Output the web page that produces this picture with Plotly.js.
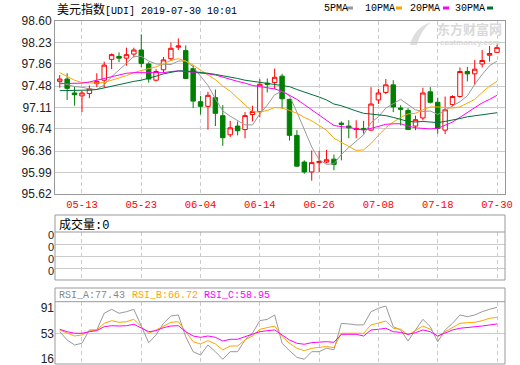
<!DOCTYPE html>
<html><head><meta charset="utf-8">
<script src="https://cdn.plot.ly/plotly-3.0.1.min.js"></script>
<style>html,body{margin:0;padding:0;background:#fff;}#chart{width:520px;height:365px;}</style>
</head><body><div id="chart"></div>
<script>
const dates = ['05-08','05-09','05-10','05-13','05-14','05-15','05-16','05-17','05-20','05-21','05-22','05-23','05-24','05-27','05-28','05-29','05-30','05-31','06-03','06-04','06-05','06-06','06-07','06-10','06-11','06-12','06-13','06-14','06-17','06-18','06-19','06-20','06-21','06-24','06-25','06-26','06-27','06-28','07-01','07-02','07-03','07-04','07-05','07-08','07-09','07-10','07-11','07-12','07-15','07-16','07-17','07-18','07-19','07-22','07-23','07-24','07-25','07-26','07-29','07-30'];
const tickDates = ['05-13','05-23','06-04','06-14','06-26','07-08','07-18','07-30'];
const yTickLabels = ['95.62','95.99','96.36','96.74','97.11','97.48','97.86','98.23','98.60'];
const rsiTickLabels = ['16','53','91'];

const openP  = [97.56,97.60,97.36,97.31,97.35,97.52,97.58,97.94,97.99,97.96,98.03,98.10,97.86,97.58,97.76,97.95,98.15,98.09,97.78,97.21,97.13,97.28,96.97,96.64,96.79,96.73,96.99,97.04,97.53,97.54,97.65,97.25,96.63,96.17,96.00,96.16,96.17,96.22,96.84,96.79,96.73,96.75,96.72,97.24,97.37,97.50,97.10,97.06,96.79,96.93,97.38,97.20,96.72,97.16,97.30,97.73,97.69,97.86,98.01,98.06];
const highP  = [97.67,97.70,97.47,97.40,97.49,97.70,97.90,98.04,98.06,98.14,98.14,98.37,97.89,97.77,97.98,98.23,98.30,98.18,97.84,97.31,97.38,97.42,97.15,96.88,96.87,97.03,97.14,97.60,97.61,97.78,97.69,97.26,96.72,96.20,96.37,96.36,96.38,96.30,96.87,96.89,96.89,96.88,97.46,97.43,97.60,97.58,97.15,97.10,96.97,97.45,97.46,97.28,97.30,97.32,97.80,97.81,97.93,98.10,98.17,98.19];
const lowP   = [97.45,97.24,97.14,97.03,97.27,97.46,97.45,97.77,97.89,97.83,97.97,97.80,97.54,97.56,97.71,97.91,98.10,97.60,97.10,96.99,96.73,96.79,96.45,96.60,96.63,96.58,96.87,96.94,97.37,97.43,97.09,96.54,96.09,95.97,95.85,96.00,96.15,96.03,96.20,96.58,96.58,96.66,96.71,97.17,97.34,97.03,96.80,96.73,96.72,96.89,97.18,96.66,96.65,97.13,97.28,97.56,97.50,97.80,97.90,98.05];
const closeP = [97.60,97.44,97.33,97.36,97.43,97.56,97.84,98.02,97.96,98.02,98.10,97.87,97.60,97.73,97.93,98.13,98.17,97.61,97.22,97.13,97.32,97.01,96.59,96.76,96.71,96.97,97.04,97.51,97.51,97.63,97.26,96.63,96.10,96.00,96.16,96.18,96.21,96.13,96.82,96.76,96.75,96.73,97.17,97.36,97.50,97.12,97.08,96.73,96.90,97.36,97.20,96.75,97.07,97.30,97.73,97.69,97.77,97.92,98.04,98.14];

const ma5  = [97.54,97.50,97.47,97.46,97.43,97.42,97.50,97.64,97.76,97.88,97.99,97.99,97.91,97.86,97.85,97.85,97.91,97.91,97.81,97.65,97.49,97.26,97.05,96.96,96.88,96.81,96.81,97.00,97.15,97.33,97.39,97.31,97.03,96.72,96.43,96.21,96.13,96.14,96.30,96.42,96.53,96.64,96.85,96.95,97.10,97.18,97.25,97.16,97.07,97.04,97.05,96.99,97.06,97.14,97.21,97.31,97.51,97.68,97.83,97.91];
const ma10 = [97.71,97.65,97.58,97.54,97.53,97.53,97.54,97.58,97.61,97.66,97.71,97.75,97.78,97.81,97.86,97.92,97.95,97.91,97.84,97.75,97.67,97.59,97.48,97.39,97.27,97.15,97.04,97.03,97.06,97.11,97.10,97.06,97.01,96.94,96.88,96.80,96.72,96.58,96.51,96.43,96.37,96.38,96.49,96.63,96.76,96.86,96.94,97.00,97.01,97.07,97.12,97.12,97.11,97.10,97.12,97.18,97.25,97.37,97.48,97.56];
const ma20 = [97.52,97.52,97.52,97.53,97.55,97.58,97.62,97.65,97.68,97.70,97.71,97.71,97.70,97.70,97.71,97.73,97.74,97.73,97.72,97.70,97.69,97.67,97.63,97.60,97.56,97.53,97.49,97.47,97.45,97.43,97.39,97.32,97.25,97.16,97.07,96.98,96.88,96.80,96.78,96.77,96.74,96.72,96.75,96.78,96.82,96.83,96.83,96.79,96.76,96.75,96.74,96.75,96.80,96.86,96.94,97.02,97.10,97.19,97.25,97.32];
const ma30 = [97.40,97.40,97.40,97.40,97.41,97.42,97.45,97.48,97.50,97.53,97.56,97.58,97.61,97.65,97.69,97.72,97.74,97.74,97.73,97.72,97.70,97.68,97.66,97.63,97.61,97.58,97.56,97.54,97.52,97.50,97.49,97.47,97.42,97.38,97.34,97.29,97.24,97.17,97.14,97.09,97.05,97.01,97.00,96.98,96.97,96.94,96.90,96.87,96.86,96.87,96.86,96.85,96.87,96.89,96.92,96.95,96.97,96.98,97.00,97.02];

const volume = [0,0,0,0,0,0,0,0,0,0,0,0,0,0,0,0,0,0,0,0,0,0,0,0,0,0,0,0,0,0,0,0,0,0,0,0,0,0,0,0,0,0,0,0,0,0,0,0,0,0,0,0,0,0,0,0,0,0,0,0];

const rsiA = [55.7,43.6,36.3,38.8,58.2,58.2,82.6,88.4,82.6,84.9,88.4,63.0,39.6,50.9,67.9,78.6,80.1,48.4,26.5,21.7,36.3,26.5,15.4,26.5,26.5,43.6,53.4,71.8,73.7,80.1,38.8,28.0,18.3,15.4,26.5,26.5,31.5,29.3,67.9,67.0,65.6,65.6,84.9,89.9,93.2,63.0,58.2,42.1,58.2,73.8,63.0,41.1,58.2,67.9,80.1,77.6,80.1,84.9,88.4,91.3];
const rsiB = [58.2,53.4,49.4,50.9,56.7,58.2,67.9,71.8,69.4,70.3,73.8,63.0,53.4,58.2,64.4,69.4,70.3,55.7,41.1,37.8,42.6,37.8,29.0,34.8,34.8,43.6,49.4,59.2,61.6,64.0,48.4,38.8,31.5,28.0,31.5,32.5,34.0,32.5,53.4,53.4,53.4,53.4,65.5,68.9,71.3,60.7,59.2,50.9,57.2,64.0,59.2,48.4,55.7,61.6,67.9,68.9,69.4,71.8,75.2,76.7];
const rsiC = [59.2,55.7,53.4,53.4,55.7,57.2,63.0,64.4,64.0,64.4,66.5,60.7,55.7,57.2,61.6,64.0,64.4,55.7,49.4,47.5,49.4,47.5,42.1,44.6,44.6,48.4,52.4,55.7,57.2,58.2,50.9,43.6,38.8,37.3,39.7,40.2,41.1,40.2,51.9,51.9,51.9,49.4,58.2,59.2,60.7,55.7,54.7,51.9,54.2,58.2,55.7,49.4,54.2,58.2,60.7,61.6,63.0,64.0,65.5,67.0];

const W = 520, H = 365;
const px = v => v / W;
const py = v => 1 - v / H;
const L = 55, R = 505;
const mainTop = 21, mainBot = 194;
const volTop = 215, volHead = 232, volBot = 280;
const rsiTop = 288, rsiHead = 301.7, rsiBot = 364;

const GRID = '#cccccc', BORDER = '#999999', DASH = '4px,3px';
const C_MA5 = '#999999', C_MA10 = '#ffa500', C_MA20 = '#ff00ff', C_MA30 = '#006f3c';
const MONO = 'Liberation Mono, DejaVu Sans Mono, monospace';
const CJK = 'Noto Sans CJK SC';
const SANS = 'Liberation Sans, Arial, sans-serif';

const traces = [
  {type:'candlestick', x:dates, open:openP, high:highP, low:lowP, close:closeP,
   xaxis:'x', yaxis:'y', whiskerwidth:0, hoverinfo:'skip',
   increasing:{line:{color:'#ff0000', width:1}, fillcolor:'#ffffff'},
   decreasing:{line:{color:'#008000', width:1}, fillcolor:'#008000'}},
  {type:'scatter', mode:'lines', x:dates, y:ma5, line:{color:C_MA5, width:1}, xaxis:'x', yaxis:'y'},
  {type:'scatter', mode:'lines', x:dates, y:ma10, line:{color:C_MA10, width:1}, xaxis:'x', yaxis:'y'},
  {type:'scatter', mode:'lines', x:dates, y:ma20, line:{color:C_MA20, width:1}, xaxis:'x', yaxis:'y'},
  {type:'scatter', mode:'lines', x:dates, y:ma30, line:{color:C_MA30, width:1}, xaxis:'x', yaxis:'y'},
  {type:'bar', x:dates, y:volume, marker:{color:'#ff0000'}, xaxis:'x2', yaxis:'y2'},
  {type:'scatter', mode:'lines', x:dates, y:rsiA, line:{color:'#999999', width:1}, xaxis:'x3', yaxis:'y3'},
  {type:'scatter', mode:'lines', x:dates, y:rsiB, line:{color:'#ffa500', width:1}, xaxis:'x3', yaxis:'y3'},
  {type:'scatter', mode:'lines', x:dates, y:rsiC, line:{color:'#ff00ff', width:1}, xaxis:'x3', yaxis:'y3'}
];

const xCommon = {domain:[px(L), px(R)], type:'category', range:[-0.64, 60.08],
  tickvals:tickDates, ticktext:tickDates, showgrid:true, gridcolor:GRID, griddash:DASH, gridwidth:1,
  ticks:'', zeroline:false, fixedrange:true};

// swoosh logo path of the watermark, in paper units
const P = (x, y) => px(x).toFixed(5) + ',' + py(y).toFixed(5);
const logoPath = 'M' + P(410, 45) + ' Q' + P(414, 28) + ' ' + P(431, 22) + ' Q' + P(420, 31) + ' ' + P(417, 45) + ' Z';

const layout = {
  width:W, height:H, margin:{l:0, r:0, t:0, b:0}, paper_bgcolor:'#ffffff', plot_bgcolor:'#ffffff',
  showlegend:false, boxgap:0.25, boxgroupgap:0.2,
  xaxis:Object.assign({}, xCommon, {anchor:'y', showline:true, mirror:true, linecolor:BORDER, linewidth:1,
    tickfont:{family:MONO, size:10.5, color:'#ff0000'}, rangeslider:{visible:false}}),
  yaxis:{domain:[py(mainBot), py(mainTop)], anchor:'x', range:[95.62, 98.60],
    tickvals:yTickLabels.map(Number), ticktext:yTickLabels, tickfont:{family:SANS, size:12, color:'#222222'},
    showgrid:true, gridcolor:GRID, showline:true, mirror:true, linecolor:BORDER, linewidth:1, ticks:'', zeroline:false, fixedrange:true,
    ticklabeloverflow:'allow'},
  xaxis2:Object.assign({}, xCommon, {anchor:'y2', matches:'x', showticklabels:false, showline:false}),
  yaxis2:{domain:[py(volBot), py(volHead)], anchor:'x2', range:[0, 4], tickvals:[1,2,3,4], ticktext:['0','0','0','0'],
    ticklabelshift:3, tickfont:{family:SANS, size:11, color:'#222222'},
    showgrid:true, gridcolor:GRID, ticks:'', zeroline:false, showline:false, fixedrange:true},
  xaxis3:Object.assign({}, xCommon, {anchor:'y3', matches:'x', showticklabels:false, showline:false}),
  yaxis3:{domain:[py(rsiBot), py(rsiHead)], anchor:'x3', range:[8.5, 99.5], tickvals:rsiTickLabels.map(Number), ticktext:rsiTickLabels,
    tickfont:{family:SANS, size:12, color:'#222222'}, ticklabeloverflow:'allow',
    showgrid:false, ticks:'', zeroline:false, showline:false, fixedrange:true},
  shapes:[
    {type:'rect', xref:'paper', yref:'paper', x0:px(L), x1:px(R), y0:py(volBot), y1:py(volTop), line:{color:BORDER, width:1}},
    {type:'line', xref:'paper', yref:'paper', x0:px(L), x1:px(R), y0:py(volHead), y1:py(volHead), line:{color:BORDER, width:1}},
    {type:'rect', xref:'paper', yref:'paper', x0:px(L), x1:px(R), y0:py(rsiBot), y1:py(rsiTop), line:{color:BORDER, width:1}},
    {type:'line', xref:'paper', yref:'paper', x0:px(L), x1:px(R), y0:py(rsiHead), y1:py(rsiHead), line:{color:BORDER, width:1}},
    {type:'line', xref:'paper', yref:'y3', x0:px(L), x1:px(R), y0:53, y1:53, line:{color:GRID, width:1}, layer:'below'},
    {type:'path', xref:'paper', yref:'paper', path:logoPath, fillcolor:'#dedede', line:{width:0}, layer:'below'},
    {type:'rect', xref:'paper', yref:'paper', x0:px(347), x1:px(353), y0:py(9.5), y1:py(6.5), fillcolor:C_MA5, line:{width:0}},
    {type:'rect', xref:'paper', yref:'paper', x0:px(396), x1:px(402), y0:py(9.5), y1:py(6.5), fillcolor:C_MA10, line:{width:0}},
    {type:'rect', xref:'paper', yref:'paper', x0:px(443), x1:px(449), y0:py(9.5), y1:py(6.5), fillcolor:C_MA20, line:{width:0}},
    {type:'rect', xref:'paper', yref:'paper', x0:px(487), x1:px(493), y0:py(9.5), y1:py(6.5), fillcolor:C_MA30, line:{width:0}}
  ],
  annotations:[
    {xref:'paper', yref:'paper', x:px(55), y:py(8), xanchor:'left', yanchor:'middle', showarrow:false,
     text:'<span style="font-family:Noto Sans CJK SC;font-size:12px">美元指数</span>[UDI] 2019-07-30 10:01',
     font:{family:MONO, size:10, color:'#000000'}},
    {xref:'paper', yref:'paper', x:px(322), y:py(8), xanchor:'left', yanchor:'middle', showarrow:false, text:'5PMA', font:{family:MONO, size:10, color:'#000'}},
    {xref:'paper', yref:'paper', x:px(363), y:py(8), xanchor:'left', yanchor:'middle', showarrow:false, text:'10PMA', font:{family:MONO, size:10, color:'#000'}},
    {xref:'paper', yref:'paper', x:px(408), y:py(8), xanchor:'left', yanchor:'middle', showarrow:false, text:'20PMA', font:{family:MONO, size:10, color:'#000'}},
    {xref:'paper', yref:'paper', x:px(453), y:py(8), xanchor:'left', yanchor:'middle', showarrow:false, text:'30PMA', font:{family:MONO, size:10, color:'#000'}},
    {xref:'paper', yref:'paper', x:px(469), y:py(28.5), xanchor:'center', yanchor:'middle', showarrow:false, text:'<b>东方财富网</b>', font:{family:CJK, size:13, color:'#d9d9d9'}},
    {xref:'paper', yref:'paper', x:px(470), y:py(42.5), xanchor:'center', yanchor:'middle', showarrow:false, text:'<b>eastmoney.com</b>', font:{family:SANS, size:8, color:'#d9d9d9'}},
    {xref:'paper', yref:'paper', x:px(57), y:py(223.5), xanchor:'left', yanchor:'middle', showarrow:false,
     text:'成交量<span style="font-family:Liberation Mono">:0</span>', font:{family:CJK, size:12, color:'#000'}},
    {xref:'paper', yref:'paper', x:px(57), y:py(295), xanchor:'left', yanchor:'middle', showarrow:false, text:'RSI_A:77.43', font:{family:MONO, size:10, color:'#888888'}},
    {xref:'paper', yref:'paper', x:px(130), y:py(295), xanchor:'left', yanchor:'middle', showarrow:false, text:'RSI_B:66.72', font:{family:MONO, size:10, color:'#ffa500'}},
    {xref:'paper', yref:'paper', x:px(201.5), y:py(295), xanchor:'left', yanchor:'middle', showarrow:false, text:'RSI_C:58.95', font:{family:MONO, size:10, color:'#ff00ff'}}
  ]
};

Plotly.newPlot('chart', traces, layout, {staticPlot:true, displayModeBar:false});
</script></body></html>
